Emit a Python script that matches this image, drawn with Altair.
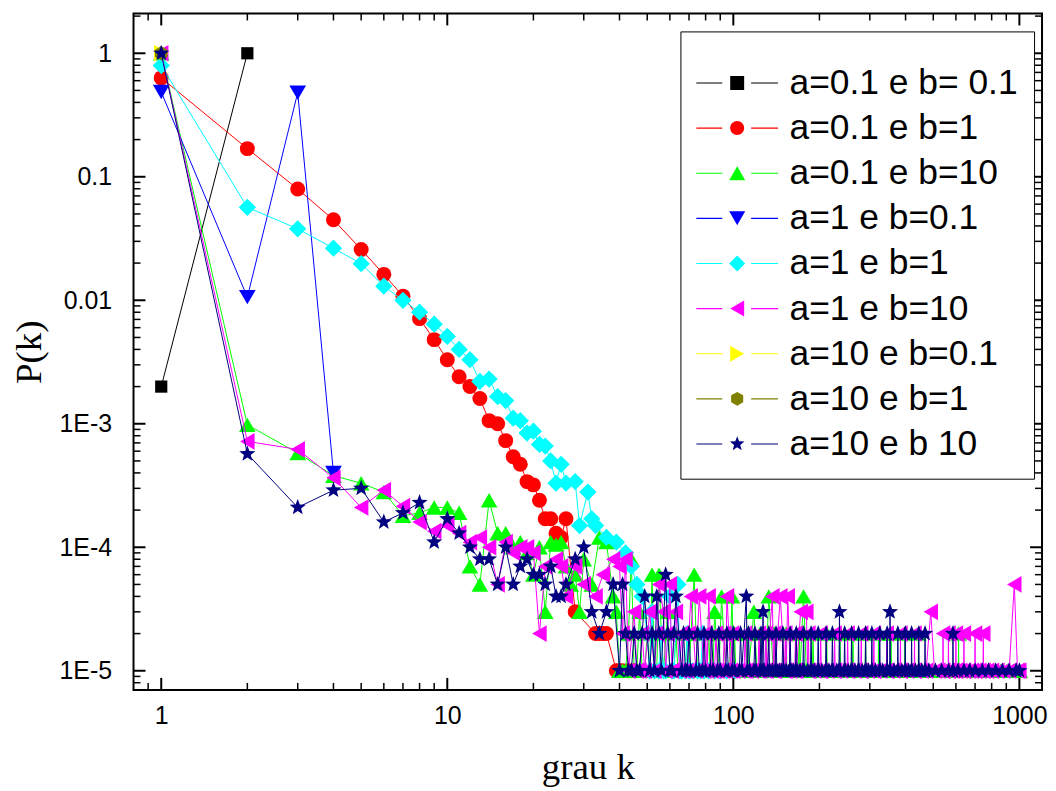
import math
import altair as alt
import pandas as pd

# ---------------- data ----------------
SERIES = ["a=0.1 e b= 0.1", "a=0.1 e b=1", "a=0.1 e b=10", "a=1 e b=0.1", "a=1 e b=1",
          "a=1 e b=10", "a=10 e b=0.1", "a=10 e b=1", "a=10 e b 10"]

black_k = [1, 2]
black_p = [0.002, 1.0]

red_k = [1, 2, 3, 4, 5, 6, 7, 8, 9, 10, 11, 12, 13, 14, 15, 16, 17, 18, 19, 20, 21, 22, 23, 24, 25, 26,
         28, 33, 34, 35, 36, 39, 40, 41, 43, 45]
red_p = [0.632, 0.169, 0.0796, 0.0448, 0.0258, 0.0162, 0.0108, 0.0071, 0.0048, 0.0033, 0.0024, 0.002,
         0.0016, 0.00106, 0.001, 0.00073, 0.00054, 0.00047, 0.00034, 0.00032, 0.00024, 0.00017, 0.00017,
         0.00013, 0.00012, 0.00017, 3e-5, 2e-5, 2e-5, 2e-5, 2e-5, 1e-5, 1e-5, 1e-5, 1e-5, 1e-5]

blue_k = [1, 2, 3, 4]
blue_p = [0.485, 0.0106, 0.48, 0.0004]

cyan_k = [1, 2, 3, 4, 5, 6, 7, 8, 9, 10, 11, 12, 13, 14, 15, 16, 17, 18, 19, 20, 21, 22, 23, 24, 25, 26,
          28, 29, 31, 32, 33, 36, 39, 42, 44, 46, 48, 50, 51, 52, 53, 55, 56, 57, 58, 60, 61, 62, 64, 65,
          66, 68, 69, 70, 72, 75, 77, 78, 79, 82, 86, 90, 95, 101]
cyan_p = [0.796, 0.0566, 0.0379, 0.0264, 0.0198, 0.013, 0.01, 0.008, 0.0064, 0.0051, 0.004, 0.0033,
          0.0022, 0.0023, 0.00166, 0.00154, 0.00111, 0.00106, 0.00084, 0.00087, 0.00068, 0.00066, 0.0005,
          0.00033, 0.00047, 0.00033, 0.00034, 0.00015, 0.00028, 0.00017, 0.00015, 0.00012, 0.00011, 9e-5,
          7e-5, 5e-5, 4e-5, 2e-5, 1e-5, 3e-5, 1e-5, 1e-5, 2e-5, 1e-5, 1e-5, 4e-5, 1e-5, 1e-5, 5e-5, 1e-5,
          1e-5, 1e-5, 2e-5, 1e-5, 1e-5, 1e-5, 1e-5, 2e-5, 1e-5, 1e-5, 1e-5, 1e-5, 1e-5, 1e-5]

green_k = [1, 2, 3, 4, 5, 6, 7, 8, 9, 10, 11, 12, 13, 14, 15, 16, 17, 18, 19, 20, 21, 22, 23, 24, 25, 26,
           27, 28, 29, 30, 32, 34, 36, 38, 44, 52, 55, 73]
green_p = [1.0, 9.8e-4, 5.8e-4, 3.8e-4, 3.3e-4, 2.8e-4, 1.8e-4, 1.9e-4, 2.1e-4, 2.1e-4, 1.9e-4, 7e-5,
           5e-5, 2.4e-4, 1.3e-4, 1.3e-4, 1.0e-4, 1.1e-4, 9e-5, 6e-5, 1.0e-4, 3e-5, 1.1e-4, 1.05e-4, 1.1e-4,
           7e-5, 5e-5, 6e-5, 3e-5, 8e-5, 5e-5, 1.2e-4, 1.1e-4, 4e-5, 8e-5, 6e-5, 6e-5, 6e-5]
green_k_2e5 = [43, 50, 56, 63, 69, 74, 82, 90, 101, 112, 124, 139, 153, 170, 190, 212, 236, 262, 290, 322,
               356, 398, 444, 613]
green_k_3e5 = [39, 47, 59, 86, 118]
green_k_4e5 = [91, 99, 133, 176]
green_k_1e5 = [40, 41, 42, 45, 46, 48, 49, 51, 53, 54, 57, 60, 62, 64, 66, 68, 70, 75, 78, 81, 83, 85, 89,
               94, 97, 100, 102, 106, 111, 113, 121, 123, 125, 130, 138, 140, 146, 152, 154, 161, 169, 171,
               180, 189, 191, 200, 211, 213, 224, 235, 237, 249, 261, 263, 275, 289, 291, 305, 321, 323,
               338, 355, 357, 375, 397, 399, 420, 443, 445, 471, 498, 527, 556, 589, 612, 614, 645, 676,
               703, 738, 779, 822, 861, 905, 953, 1004]

magenta_k = [1, 2, 3, 4, 5, 6, 7, 8, 9, 10, 11, 12, 13, 14, 15, 16, 17, 18, 19, 20, 21, 22, 24, 25, 26,
             28, 30, 33, 35, 38, 40, 42, 55, 60, 960]
magenta_p = [1.0, 7.2e-4, 6.2e-4, 3.65e-4, 2.1e-4, 2.9e-4, 2.15e-4, 1.6e-4, 1.35e-4, 1.5e-4, 1.3e-4,
             1.1e-4, 1.2e-4, 1.0e-4, 5e-5, 1.1e-4, 9e-5, 1.0e-4, 1.0e-4, 9e-5, 2e-5, 7e-5, 8e-5, 7e-5,
             4e-5, 7e-5, 5e-5, 4e-5, 6e-5, 8e-5, 7e-5, 8e-5, 5e-5, 5e-5, 5e-5]
magenta_k_2e5 = [41, 48, 54, 59, 66, 70, 80, 87, 93, 99, 110, 123, 130, 139, 152, 165, 183, 202, 226, 251,
                 280, 310, 344, 384, 430, 541, 565, 600, 640, 700, 748]
magenta_k_3e5 = [45, 51, 57, 63, 172, 180, 490]
magenta_k_4e5 = [71, 76, 82, 95, 137, 146, 155]
magenta_k_1e5 = [43, 46, 47, 49, 53, 58, 61, 65, 67, 69, 74, 79, 81, 84, 86, 88, 92, 94, 98, 100, 104,
                 109, 111, 116, 122, 124, 129, 131, 138, 140, 151, 153, 158, 164, 166, 182, 184, 192, 201,
                 203, 213, 225, 227, 238, 250, 252, 265, 279, 281, 295, 309, 311, 326, 343, 345, 362, 383,
                 385, 405, 429, 431, 455, 472, 505, 521, 540, 542, 564, 566, 584, 599, 601, 621, 639, 641,
                 664, 681, 699, 701, 724, 747, 749, 771, 802, 838, 879, 921, 985, 1000]

navy_k = [1, 2, 3, 4, 5, 6, 7, 8, 9, 10, 11, 12, 13, 14, 15, 16, 17, 18, 19, 20, 21, 22, 23, 24, 25, 26,
          28, 30, 32, 34, 36, 38, 41, 58]
navy_p = [1.0, 5.7e-4, 2.1e-4, 2.9e-4, 3.0e-4, 1.6e-4, 1.9e-4, 2.3e-4, 1.1e-4, 1.7e-4, 1.3e-4, 1.0e-4,
          8e-5, 8e-5, 5e-5, 1.0e-4, 5e-5, 7e-5, 8e-5, 6e-5, 6e-5, 5e-5, 7e-5, 4e-5, 4e-5, 5e-5, 8e-5,
          1.0e-4, 3e-5, 2e-5, 3e-5, 5e-5, 5e-5, 6e-5]
navy_k_2e5 = [42, 45, 48, 52, 55, 59, 62, 67, 70, 75, 79, 84, 89, 95, 100, 106, 113, 119, 125, 133, 141,
              149, 158, 166, 176, 187, 198, 211, 222, 245, 259, 274, 290, 305, 325, 345, 376, 399, 420,
              445, 468, 586]
navy_k_3e5 = [127, 235, 353]
navy_k_4e5 = [49, 54, 63, 111]
navy_k_1e5 = [40, 43, 44, 46, 47, 51, 53, 56, 60, 61, 66, 68, 69, 71, 74, 76, 78, 80, 83, 85, 88, 90, 94,
              96, 99, 101, 105, 107, 112, 114, 118, 120, 124, 126, 128, 132, 134, 137, 140, 142, 145, 148,
              150, 153, 157, 159, 162, 165, 167, 171, 175, 177, 182, 186, 188, 192, 197, 199, 204, 210,
              212, 216, 221, 223, 230, 234, 236, 244, 246, 252, 258, 260, 266, 273, 275, 282, 289, 291,
              297, 304, 306, 314, 324, 326, 333, 344, 346, 352, 354, 365, 375, 377, 388, 398, 400, 410,
              419, 421, 433, 444, 446, 456, 467, 469, 483, 509, 535, 566, 585, 587, 610, 640, 670, 701,
              742, 780, 826, 872, 920, 975, 1000]

yellow_k = [1]
yellow_p = [1.0]
olive_k = [1]
olive_p = [1.0]

# ---------------- styles ----------------
COLORS = ["#000000", "#ff0000", "#00ff00", "#0000ff", "#00ffff", "#ff00ff", "#ffff00", "#808000", "#000080"]


def poly(pts):
    return "M" + "L".join(f"{x:.3f},{y:.3f}" for x, y in pts) + "Z"


def star_pts(r, cx=0.0):
    pts = []
    for i in range(10):
        ang = math.radians(-90 + 36 * i)
        rr = r if i % 2 == 0 else r * 0.42
        pts.append((cx + rr * math.cos(ang), rr * math.sin(ang)))
    return pts


def hex_pts(r, cx=0.0):
    return [(cx + r * math.cos(math.radians(-90 + 60 * i)), r * math.sin(math.radians(-90 + 60 * i)))
            for i in range(6)]


STAR = poly(star_pts(1.0))
HEX = poly(hex_pts(1.0))
SHAPES = ["square", "circle", "triangle-up", "triangle-down", "diamond", "triangle-left",
          "triangle-right", HEX, STAR]
SIZES = [150, 225, 280, 280, 300, 280, 280, 210, 290]

# legend symbols: line - marker - line  (units of 7 px)
cx = 3.32
r, h = 1.15, 1.0
LINES = "M-2.54,-0.08H1.18V0.08H-2.54ZM5.32,-0.08H9.18V0.08H5.32Z"
leg_markers = [
    poly([(cx - 1.0, -1.0), (cx + 1.0, -1.0), (cx + 1.0, 1.0), (cx - 1.0, 1.0)]),
    f"M{cx-1},0A1,1 0 1,0 {cx+1},0A1,1 0 1,0 {cx-1},0Z",
    poly([(cx, -h), (cx - r, h), (cx + r, h)]),
    poly([(cx, h), (cx - r, -h), (cx + r, -h)]),
    poly([(cx - r, 0), (cx, -r), (cx + r, 0), (cx, r)]),
    poly([(cx - h, 0), (cx + h, -r), (cx + h, r)]),
    poly([(cx + h, 0), (cx - h, -r), (cx - h, r)]),
    poly(hex_pts(1.0, cx)),
    poly(star_pts(1.1, cx)),
]
LEGEND_SHAPES = [LINES + m for m in leg_markers]

# ---------------- table ----------------
rows = []


def add(name, ks, ps):
    for k, p in zip(ks, ps):
        rows.append({"series": name, "k": k, "p": p})


def add_level(name, ks, p):
    add(name, ks, [p] * len(ks))


add(SERIES[0], black_k, black_p)
add(SERIES[1], red_k, red_p)
add(SERIES[2], green_k, green_p)
add_level(SERIES[2], green_k_4e5, 4e-5)
add_level(SERIES[2], green_k_3e5, 3e-5)
add_level(SERIES[2], green_k_2e5, 2e-5)
add_level(SERIES[2], green_k_1e5, 1e-5)
add(SERIES[3], blue_k, blue_p)
add(SERIES[4], cyan_k, cyan_p)
add(SERIES[5], magenta_k, magenta_p)
add_level(SERIES[5], magenta_k_4e5, 4e-5)
add_level(SERIES[5], magenta_k_3e5, 3e-5)
add_level(SERIES[5], magenta_k_2e5, 2e-5)
add_level(SERIES[5], magenta_k_1e5, 1e-5)
add(SERIES[6], yellow_k, yellow_p)
add(SERIES[7], olive_k, olive_p)
add(SERIES[8], navy_k, navy_p)
add_level(SERIES[8], navy_k_4e5, 4e-5)
add_level(SERIES[8], navy_k_3e5, 3e-5)
add_level(SERIES[8], navy_k_2e5, 2e-5)
add_level(SERIES[8], navy_k_1e5, 1e-5)

df = pd.DataFrame(rows).drop_duplicates(["series", "k"]).sort_values(["series", "k"]).reset_index(drop=True)

# tick positions
X_MAJOR = [1, 10, 100, 1000]
X_MINOR = [m * 10 ** e for e in range(-1, 3) for m in range(2, 10) if 0.85 <= m * 10 ** e <= 1200]
Y_MAJOR = [1e-5, 1e-4, 1e-3, 1e-2, 1e-1, 1]
Y_MINOR = [m * 10.0 ** e for e in range(-6, 1) for m in range(2, 10) if 7.1e-6 <= m * 10.0 ** e <= 2.05]

W, H = 912, 679
xscale = alt.Scale(type="log", domain=[0.8, 1200], nice=False)
yscale = alt.Scale(type="log", domain=[7.0e-6, 2.1], nice=False)

xaxis = alt.Axis(values=X_MAJOR, format="d", ticks=False, domain=False, grid=False,
                 labelFont="Liberation Sans", labelFontSize=25, labelPadding=14, labelColor="black",
                 labelFlush=False, labelOverlap=False,
                 title="grau k", titleFont="Liberation Serif", titleFontSize=37, titleFontWeight="normal",
                 titleColor="black", titleY=89, titleBaseline="alphabetic")
yaxis = alt.Axis(values=Y_MAJOR,
                 labelExpr="datum.value >= 0.5 ? '1' : datum.value >= 0.05 ? '0.1' : datum.value >= 0.005 ? '0.01' : '1E' + round(log(datum.value) / LN10)",
                 ticks=False, domain=False, grid=False,
                 labelFont="Liberation Sans", labelFontSize=25, labelPadding=22, labelColor="black",
                 labelFlush=False, labelOverlap=False,
                 title="P(k)", titleFont="Liberation Serif", titleFontSize=37, titleFontWeight="normal",
                 titleColor="black", titleX=-104, titleY=H / 2, titleBaseline="middle", titleAngle=-90)


def X(f):
    return alt.X(f"{f}:Q", scale=xscale, axis=xaxis, title="grau k")


def Y(f):
    return alt.Y(f"{f}:Q", scale=yscale, axis=yaxis, title="P(k)")


layers = []

# series: line then symbols
for i, name in enumerate(SERIES):
    base = alt.Chart(df).transform_filter(alt.datum.series == name)
    layers.append(base.mark_line(color=COLORS[i], strokeWidth=1).encode(x=X("k"), y=Y("p"), order="k:Q"))
    layers.append(base.mark_point(filled=True, shape=SHAPES[i], size=SIZES[i], color=COLORS[i],
                                  opacity=1, strokeWidth=0).encode(x=X("k"), y=Y("p")))

# legend layer (invisible marks, visible legend)
leg = alt.Legend(title=" ", titleFontSize=14, titlePadding=4, orient="none", legendX=549, legendY=18,
                 strokeColor="black", padding=16, fillColor="white",
                 labelFont="Liberation Sans", labelFontSize=35.5, labelColor="black", labelOffset=58,
                 labelLimit=400, rowPadding=8.3, symbolSize=196, symbolOpacity=1, symbolStrokeWidth=0)
layers.append(
    alt.Chart(df).transform_filter("datum.k == 1").mark_point(filled=True, opacity=0, size=196).encode(
        x=X("k"), y=Y("p"),
        color=alt.Color("series:N", scale=alt.Scale(domain=SERIES, range=COLORS), legend=leg),
        shape=alt.Shape("series:N", scale=alt.Scale(domain=SERIES, range=LEGEND_SHAPES), legend=leg),
    )
)

# inward ticks on all four sides
ym = pd.DataFrame({"v": Y_MAJOR})
yn = pd.DataFrame({"v": Y_MINOR})
xm = pd.DataFrame({"v": X_MAJOR})
xn = pd.DataFrame({"v": X_MINOR})
for data, ln, sw in [(ym, 12, 2), (yn, 7, 1.5)]:
    layers.append(alt.Chart(data).mark_rule(color="black", strokeWidth=sw).encode(
        y=Y("v"), x=alt.value(0), x2=alt.value(ln)))
    layers.append(alt.Chart(data).mark_rule(color="black", strokeWidth=sw).encode(
        y=Y("v"), x=alt.value(W - ln), x2=alt.value(W)))
for data, ln, sw in [(xm, 12, 2), (xn, 7, 1.5)]:
    layers.append(alt.Chart(data).mark_rule(color="black", strokeWidth=sw).encode(
        x=X("v"), y=alt.value(H - ln), y2=alt.value(H)))
    layers.append(alt.Chart(data).mark_rule(color="black", strokeWidth=sw).encode(
        x=X("v"), y=alt.value(0), y2=alt.value(ln)))

chart = alt.layer(*layers).properties(
    width=W, height=H,
    padding={"left": 126, "top": 4, "right": 6, "bottom": 100},
    autosize=alt.AutoSizeParams(type="none"),
    background="white",
).configure_view(stroke="black", strokeWidth=2)

chart.save("out.html", embed_options={"renderer": "svg", "actions": False})
